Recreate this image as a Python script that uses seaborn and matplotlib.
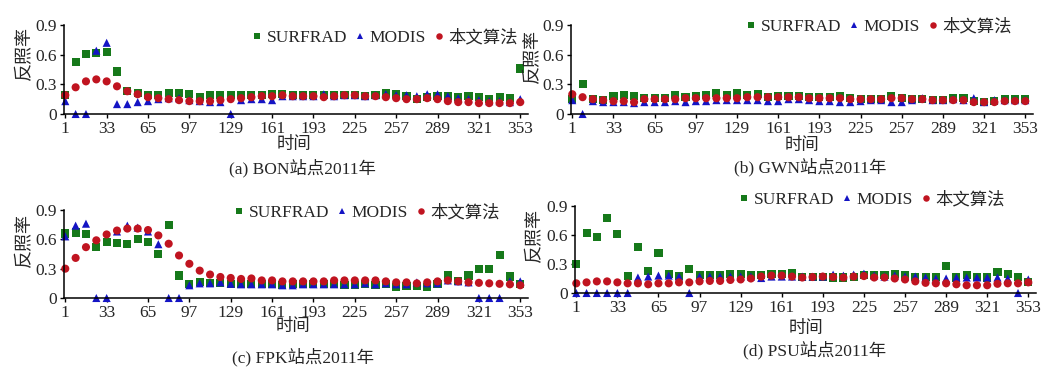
import matplotlib
matplotlib.use("Agg")
import matplotlib.pyplot as plt
import pandas as pd
import seaborn as sns

# 8-day composites, day of year 2011
days = [1, 9, 17, 25, 33, 41, 49, 57, 65, 73, 81, 89, 97, 105, 113, 121, 129, 137, 145,
        153, 161, 169, 177, 185, 193, 201, 209, 217, 225, 233, 241, 249, 257, 265, 273,
        281, 289, 297, 305, 313, 321, 329, 337, 345, 353]
x_ticks = [1, 33, 65, 97, 129, 161, 193, 225, 257, 289, 321, 353]
y_ticks = [0, 0.3, 0.6, 0.9]
y_tick_labels = ["0", "0.3", "0.6", "0.9"]
series = ["SURFRAD", "MODIS", "本文算法"]

# (a) BON
bon_surfrad = [0.19, 0.53, 0.61, 0.62, 0.63, 0.43, 0.23, 0.21, 0.19, 0.19, 0.21, 0.21, 0.20, 0.17, 0.19,
               0.19, 0.19, 0.19, 0.19, 0.19, 0.20, 0.20, 0.19, 0.19, 0.19, 0.19, 0.19, 0.19, 0.19, 0.18,
               0.19, 0.21, 0.20, 0.18, 0.15, 0.17, 0.18, 0.18, 0.17, 0.18, 0.17, 0.15, 0.17, 0.16, 0.46]
bon_modis = [0.13, 0.0, 0.0, 0.64, 0.72, 0.10, 0.10, 0.12, 0.13, 0.15, 0.16, 0.16, 0.14, 0.13, 0.12,
             0.12, 0.0, 0.14, 0.15, 0.15, 0.14, 0.18, 0.18, 0.18, 0.18, 0.20, 0.18, 0.19, 0.19, 0.18,
             0.19, 0.20, 0.19, 0.19, 0.18, 0.20, 0.20, 0.18, 0.16, 0.15, 0.14, 0.13, 0.13, 0.12, 0.15]
bon_ours = [0.19, 0.27, 0.33, 0.35, 0.33, 0.28, 0.23, 0.20, 0.17, 0.16, 0.15, 0.14, 0.13, 0.13, 0.13,
            0.14, 0.15, 0.16, 0.17, 0.18, 0.18, 0.19, 0.18, 0.18, 0.18, 0.17, 0.18, 0.19, 0.19, 0.18,
            0.18, 0.17, 0.16, 0.15, 0.15, 0.16, 0.15, 0.13, 0.12, 0.12, 0.11, 0.11, 0.11, 0.11, 0.12]

# (b) GWN
gwn_surfrad = [0.15, 0.30, 0.15, 0.14, 0.18, 0.19, 0.18, 0.16, 0.16, 0.16, 0.19, 0.17, 0.18, 0.19, 0.21,
               0.19, 0.21, 0.19, 0.20, 0.17, 0.18, 0.18, 0.18, 0.17, 0.17, 0.17, 0.18, 0.16, 0.15, 0.15,
               0.15, 0.18, 0.16, 0.15, 0.15, 0.14, 0.14, 0.16, 0.16, 0.13, 0.12, 0.13, 0.15, 0.15, 0.15]
gwn_modis = [0.14, 0.0, 0.13, 0.12, 0.12, 0.12, 0.11, 0.12, 0.12, 0.12, 0.13, 0.12, 0.13, 0.13, 0.14,
             0.14, 0.14, 0.14, 0.14, 0.13, 0.13, 0.15, 0.15, 0.14, 0.13, 0.13, 0.12, 0.12, 0.13, 0.14,
             0.14, 0.12, 0.12, 0.14, 0.16, 0.14, 0.14, 0.15, 0.14, 0.16, 0.12, 0.14, 0.14, 0.14, 0.14]
gwn_ours = [0.20, 0.17, 0.15, 0.14, 0.13, 0.13, 0.12, 0.15, 0.15, 0.15, 0.15, 0.16, 0.16, 0.16, 0.16,
            0.16, 0.16, 0.17, 0.17, 0.17, 0.17, 0.17, 0.17, 0.16, 0.16, 0.16, 0.16, 0.15, 0.15, 0.15,
            0.15, 0.16, 0.16, 0.15, 0.15, 0.14, 0.14, 0.14, 0.14, 0.12, 0.12, 0.12, 0.13, 0.13, 0.13]

# (c) FPK
fpk_surfrad = [0.66, 0.67, 0.65, 0.52, 0.575, 0.565, 0.555, 0.60, 0.575, 0.45, 0.75, 0.23, 0.14, 0.165, 0.15,
               0.15, 0.14, 0.14, 0.14, 0.14, 0.14, 0.13, 0.14, 0.14, 0.14, 0.14, 0.14, 0.13, 0.13, 0.14,
               0.13, 0.14, 0.11, 0.12, 0.12, 0.11, 0.14, 0.23, 0.17, 0.23, 0.30, 0.30, 0.44, 0.22, 0.14]
fpk_modis = [0.63, 0.74, 0.76, 0.0, 0.0, 0.68, 0.74, 0.72, 0.68, 0.55, 0.0, 0.0, 0.13, 0.15, 0.15,
             0.16, 0.145, 0.14, 0.14, 0.14, 0.14, 0.13, 0.13, 0.14, 0.14, 0.14, 0.14, 0.14, 0.14, 0.15,
             0.14, 0.15, 0.14, 0.14, 0.16, 0.15, 0.15, 0.18, 0.17, 0.16, 0.0, 0.0, 0.0, 0.17, 0.17]
fpk_ours = [0.30, 0.41, 0.52, 0.59, 0.65, 0.69, 0.71, 0.71, 0.695, 0.64, 0.555, 0.435, 0.35, 0.28, 0.24,
            0.215, 0.205, 0.195, 0.20, 0.18, 0.18, 0.17, 0.17, 0.17, 0.17, 0.17, 0.18, 0.18, 0.18, 0.18,
            0.18, 0.17, 0.16, 0.16, 0.15, 0.16, 0.17, 0.18, 0.17, 0.16, 0.155, 0.15, 0.145, 0.14, 0.13]

# (d) PSU
psu_surfrad = [0.30, 0.62, 0.58, 0.78, 0.61, 0.18, 0.48, 0.23, 0.41, 0.20, 0.18, 0.25, 0.19, 0.19, 0.19,
               0.20, 0.20, 0.19, 0.19, 0.20, 0.20, 0.21, 0.17, 0.17, 0.17, 0.16, 0.16, 0.17, 0.185, 0.185,
               0.185, 0.20, 0.185, 0.17, 0.165, 0.165, 0.28, 0.16, 0.185, 0.17, 0.16, 0.22, 0.20, 0.17, 0.11]
psu_modis = [0.0, 0.0, 0.0, 0.0, 0.0, 0.0, 0.16, 0.17, 0.18, 0.18, 0.17, 0.0, 0.17, 0.17, 0.17,
             0.17, 0.17, 0.17, 0.155, 0.17, 0.17, 0.17, 0.17, 0.17, 0.17, 0.19, 0.18, 0.19, 0.20, 0.18,
             0.17, 0.18, 0.17, 0.17, 0.16, 0.15, 0.15, 0.16, 0.16, 0.16, 0.16, 0.16, 0.15, 0.0, 0.14]
psu_ours = [0.10, 0.11, 0.12, 0.12, 0.11, 0.10, 0.10, 0.09, 0.10, 0.10, 0.11, 0.11, 0.12, 0.125, 0.125,
            0.135, 0.14, 0.15, 0.17, 0.18, 0.18, 0.17, 0.16, 0.165, 0.17, 0.165, 0.16, 0.17, 0.175, 0.16,
            0.16, 0.15, 0.14, 0.12, 0.105, 0.10, 0.10, 0.09, 0.08, 0.08, 0.08, 0.095, 0.10, 0.10, 0.11]

titles = ["(a) BON站点2011年", "(b) GWN站点2011年", "(c) FPK站点2011年", "(d) PSU站点2011年"]
panels = [(bon_surfrad, bon_modis, bon_ours), (gwn_surfrad, gwn_modis, gwn_ours),
          (fpk_surfrad, fpk_modis, fpk_ours), (psu_surfrad, psu_modis, psu_ours)]

palette = {"SURFRAD": "#16791a", "MODIS": "#1414c4", "本文算法": "#c01420"}
markers = {"SURFRAD": "s", "MODIS": "^", "本文算法": "o"}

sns.set_style("ticks")
plt.rcParams["font.family"] = ["Liberation Serif", "Noto Sans CJK SC"]
plt.rcParams["axes.unicode_minus"] = False

W, H = 1048, 367
fig = plt.figure(figsize=(W / 100, H / 100), dpi=100)

# pixel boxes: left, top, right, bottom
boxes = [(64, 25, 528, 114), (571, 25, 1033, 114), (64, 210, 528, 298), (575, 206, 1036, 293)]
legend_pos = [(518, 38), (1012, 27), (500, 213), (1005, 200)]
xlabel_pos = [(294, 145), (802, 146), (293, 327), (806, 329)]
ylabel_pos = [(25, 53), (533, 56), (25, 240), (535, 235)]
title_pos = [(302, 168), (810, 167), (303, 357), (815, 350)]

for k, (sur, mod, ours) in enumerate(panels):
    l, t, r, b = boxes[k]
    ax = fig.add_axes([l / W, 1 - b / H, (r - l) / W, (b - t) / H])
    df = pd.concat([
        pd.DataFrame({"day": days, "albedo": sur, "src": "SURFRAD"}),
        pd.DataFrame({"day": days, "albedo": mod, "src": "MODIS"}),
        pd.DataFrame({"day": days, "albedo": ours, "src": "本文算法"}),
    ], ignore_index=True)
    sns.scatterplot(data=df, x="day", y="albedo", hue="src", style="src",
                    hue_order=series, style_order=series, palette=palette,
                    markers=markers, s=34, linewidth=0, ax=ax, clip_on=False)
    ax.set_xlim(0, 359)
    ax.set_ylim(0, 0.9)
    ax.set_xticks(x_ticks)
    ax.set_yticks(y_ticks)
    ax.set_yticklabels(y_tick_labels)
    ax.set_xlabel("")
    ax.set_ylabel("")
    sns.despine(ax=ax)
    for s in ["left", "bottom"]:
        ax.spines[s].set_linewidth(1.1)
        ax.spines[s].set_color("black")
    ax.tick_params(axis="both", labelsize=12.5, length=3, width=1, color="black", pad=2)

    h, lab = ax.get_legend_handles_labels()
    lx, ly = legend_pos[k]
    ax.legend(h, lab, ncol=3, frameon=False, loc="center right",
              bbox_to_anchor=(lx / W, 1 - ly / H), bbox_transform=fig.transFigure,
              fontsize=12.5, handlelength=0.5, handletextpad=0.3, columnspacing=0.5,
              borderpad=0, borderaxespad=0, markerscale=0.8)

    fig.text(xlabel_pos[k][0] / W, 1 - xlabel_pos[k][1] / H, "时间",
             ha="center", va="center", fontsize=12.5)
    fig.text(ylabel_pos[k][0] / W, 1 - ylabel_pos[k][1] / H, "反照率",
             ha="center", va="center", rotation=90, fontsize=13)
    fig.text(title_pos[k][0] / W, 1 - title_pos[k][1] / H, titles[k],
             ha="center", va="center", fontsize=12.5)

fig.savefig("out.png", dpi=100)
